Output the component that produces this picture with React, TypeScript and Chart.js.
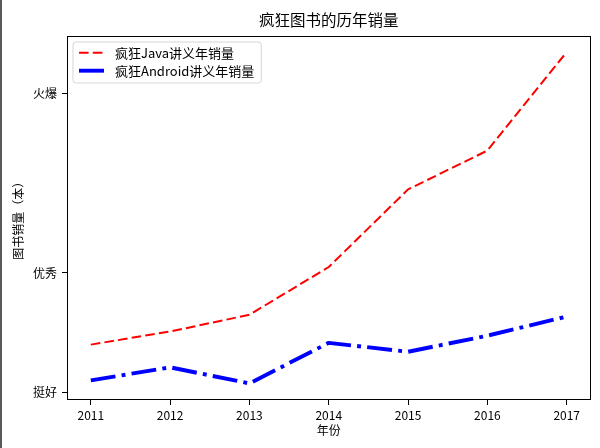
import { useEffect, useRef } from "react";
import { Chart, registerables } from "chart.js";

Chart.register(...registerables);

const years = [2011, 2012, 2013, 2014, 2015, 2016, 2017];
const javaSales = [58000, 60200, 63000, 71000, 84000, 90500, 107000];
const androidSales = [52000, 54200, 51500, 58300, 56800, 59500, 62700];
const yTickValues = [50000, 70000, 100000];
const yTickLabels = ["挺好", "优秀", "火爆"];
const seriesLabels = ["疯狂Java讲义年销量", "疯狂Android讲义年销量"];
const titleText = "疯狂图书的历年销量";
const xTitleText = "年份";
const yTitleText = "图书销量（本）";

const FONT = '"Noto Sans CJK SC", "Noto Sans", sans-serif';

const framePlugin = {
  id: "frame",
  afterDatasetsDraw(chart: any) {
    const { ctx, chartArea } = chart;
    ctx.save();
    ctx.strokeStyle = "#000";
    ctx.lineWidth = 1;
    const l = Math.round(chartArea.left) + 0.5;
    const t = Math.round(chartArea.top) + 0.5;
    const r = Math.round(chartArea.right) - 0.5;
    const b = Math.round(chartArea.bottom) - 0.5;
    ctx.strokeRect(l, t, r - l, b - t);
    ctx.restore();
  },
};

const insideLegendPlugin = {
  id: "insideLegend",
  afterDraw(chart: any) {
    const { ctx, chartArea } = chart;
    const fontSize = 13;
    ctx.save();
    ctx.font = `${fontSize}px ${FONT}`;
    const datasets = chart.data.datasets;
    const textW = Math.max(...datasets.map((d: any) => ctx.measureText(d.label).width));
    const x0 = chartArea.left + 6;
    const y0 = chartArea.top + 6.5;
    const w = 42 + textW + 7;
    const h = 41;
    const rad = 3;
    ctx.beginPath();
    ctx.moveTo(x0 + rad, y0);
    ctx.lineTo(x0 + w - rad, y0);
    ctx.quadraticCurveTo(x0 + w, y0, x0 + w, y0 + rad);
    ctx.lineTo(x0 + w, y0 + h - rad);
    ctx.quadraticCurveTo(x0 + w, y0 + h, x0 + w - rad, y0 + h);
    ctx.lineTo(x0 + rad, y0 + h);
    ctx.quadraticCurveTo(x0, y0 + h, x0, y0 + h - rad);
    ctx.lineTo(x0, y0 + rad);
    ctx.quadraticCurveTo(x0, y0, x0 + rad, y0);
    ctx.closePath();
    ctx.fillStyle = "rgba(255,255,255,0.8)";
    ctx.fill();
    ctx.strokeStyle = "rgba(204,204,204,0.8)";
    ctx.lineWidth = 1;
    ctx.stroke();
    datasets.forEach((ds: any, i: number) => {
      const y = y0 + 10.7 + i * 18;
      ctx.save();
      ctx.beginPath();
      ctx.setLineDash(ds.borderDash || []);
      ctx.lineWidth = ds.borderWidth;
      ctx.strokeStyle = ds.borderColor;
      ctx.lineCap = "butt";
      ctx.moveTo(x0 + 6, y);
      ctx.lineTo(x0 + 31, y);
      ctx.stroke();
      ctx.restore();
      ctx.fillStyle = "#000";
      ctx.textBaseline = "middle";
      ctx.textAlign = "left";
      ctx.fillText(ds.label, x0 + 42, y);
    });
    ctx.restore();
  },
};

export default function App() {
  const canvasRef = useRef<HTMLCanvasElement | null>(null);

  useEffect(() => {
    if (!canvasRef.current) return;
    const chart = new Chart(canvasRef.current, {
      type: "line",
      data: {
        datasets: [
          {
            label: seriesLabels[0],
            data: years.map((y, i) => ({ x: y, y: javaSales[i] })),
            borderColor: "#ff0000",
            borderWidth: 2,
            borderDash: [9.6, 4.2],
            borderJoinStyle: "round",
            pointRadius: 0,
            tension: 0,
            fill: false,
          },
          {
            label: seriesLabels[1],
            data: years.map((y, i) => ({ x: y, y: androidSales[i] })),
            borderColor: "#0000ff",
            borderWidth: 3.9,
            borderDash: [25, 6.2, 3.9, 6.2],
            borderJoinStyle: "round",
            pointRadius: 0,
            tension: 0,
            fill: false,
          },
        ],
      },
      options: {
        animation: false,
        responsive: false,
        layout: { padding: { left: 0, right: 9.5, top: 0, bottom: 0 } },
        plugins: {
          legend: { display: false },
          tooltip: { enabled: false },
          title: {
            display: true,
            text: titleText,
            fullSize: false,
            color: "#000",
            font: { family: FONT, size: 15.5, weight: "normal" },
            padding: { top: 11, bottom: 5.9 },
          },
        },
        scales: {
          x: {
            type: "linear",
            min: 2010.7,
            max: 2017.3,
            afterBuildTicks: (s: any) => {
              s.ticks = years.map((v) => ({ value: v }));
            },
            afterFit: (s: any) => {
              s.height = 48;
            },
            ticks: {
              callback: (v: any) => String(v),
              color: "#000",
              font: { family: FONT, size: 12 },
              padding: 3,
              autoSkip: false,
              maxRotation: 0,
            },
            grid: {
              drawOnChartArea: false,
              drawTicks: true,
              tickLength: 5,
              tickColor: "#000",
              tickWidth: 1,
            },
            border: { display: false },
            title: {
              display: true,
              text: xTitleText,
              color: "#000",
              font: { family: FONT, size: 12 },
              padding: { top: 0, bottom: 10.8 },
            },
          },
          y: {
            type: "linear",
            min: 48725,
            max: 109775,
            afterBuildTicks: (s: any) => {
              s.ticks = yTickValues.map((v) => ({ value: v }));
            },
            afterFit: (s: any) => {
              s.width = 67;
            },
            ticks: {
              callback: (v: any) => {
                const idx = yTickValues.indexOf(Number(v));
                return idx >= 0 ? yTickLabels[idx] : "";
              },
              color: "#000",
              font: { family: FONT, size: 12 },
              padding: 5,
              autoSkip: false,
            },
            grid: {
              drawOnChartArea: false,
              drawTicks: true,
              tickLength: 5,
              tickColor: "#000",
              tickWidth: 1,
            },
            border: { display: false },
            title: {
              display: true,
              text: yTitleText,
              color: "#000",
              font: { family: FONT, size: 12 },
              padding: { top: 11.3, bottom: 0 },
            },
          },
        },
      } as any,
      plugins: [framePlugin, insideLegendPlugin],
    });
    return () => chart.destroy();
  }, []);

  return (
    <div
      style={{
        position: "fixed",
        left: 0,
        top: 0,
        width: 600,
        height: 448,
        background: "#fff",
        overflow: "hidden",
      }}
    >
      <canvas ref={canvasRef} width={600} height={448} style={{ display: "block" }} />
      <div
        style={{
          position: "absolute",
          left: 0,
          top: 0,
          width: 2,
          height: 448,
          background: "#5a5a5a",
        }}
      />
    </div>
  );
}
